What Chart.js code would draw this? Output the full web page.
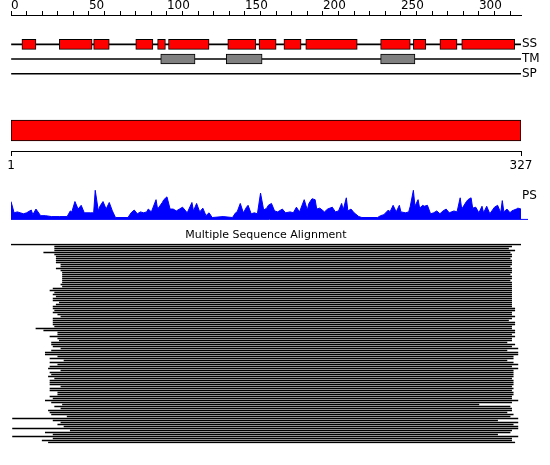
<!DOCTYPE html>
<html>
<head>
<meta charset="utf-8">
<script src="https://cdn.jsdelivr.net/npm/chart.js@4"></script>
<style>
  body { margin: 0; background: #fff; }
  #wrap { position: relative; width: 550px; height: 465px; }
  canvas { position: absolute; left: 0; }
</style>
</head>
<body>
<div id="wrap">
  <canvas id="tracks" width="550" height="90" style="top:0px"></canvas>
  <canvas id="seq" width="550" height="65" style="top:110px"></canvas>
  <canvas id="ps" width="550" height="37" style="top:184px"></canvas>
  <canvas id="msa" width="550" height="220" style="top:224px"></canvas>
</div>
<script>
// sequence length (residues)
const seqLength = 327;

// feature tracks
const trackNames = ['SS', 'TM', 'SP'];
const ssStart = [7, 31, 53, 80, 94, 101, 139, 159, 175, 189, 237, 258, 275, 289];
const ssEnd   = [16, 52, 63, 91, 99, 127, 157, 170, 186, 222, 256, 266, 286, 323];
const tmStart = [96, 138, 237];
const tmEnd   = [118, 161, 259];

// PS profile (residue, score)
const psPos = [0, 2, 4, 6, 8, 10, 13, 14, 16, 19, 22, 26, 31, 36, 38, 39, 41, 43, 45, 47,
  51, 53, 54, 56, 57, 59, 61, 63, 65, 67, 75, 77, 79, 81, 83, 85, 87, 88, 90, 93,
  94, 97, 98, 100, 102, 104, 106, 108, 110, 113, 116, 117, 119, 121, 123, 125, 127, 129, 136, 142,
  144, 145, 147, 149, 151, 152, 154, 156, 158, 160, 162, 164, 165, 167, 169, 171, 174, 176, 179, 181,
  183, 185, 188, 190, 191, 193, 195, 196, 198, 201, 203, 206, 208, 210, 212, 213, 215, 216, 218, 220,
  223, 225, 235, 237, 239, 242, 243, 245, 247, 249, 250, 253, 255, 256, 258, 259, 261, 262, 264, 265,
  267, 269, 271, 273, 275, 277, 279, 281, 284, 286, 288, 289, 292, 293, 295, 296, 298, 300, 302, 303,
  305, 307, 310, 312, 314, 315, 316, 318, 320, 321, 324, 325, 327];
const psVal = [19, 7, 8, 7, 6, 7, 10, 5, 11, 4, 4, 3, 3, 3, 9, 8, 19, 11, 15, 7,
  7, 7, 31, 9, 14, 19, 11, 18, 9, 2, 2, 7, 10, 6, 8, 7, 8, 11, 8, 21,
  11, 18, 21, 24, 11, 11, 9, 11, 13, 7, 18, 9, 17, 8, 12, 4, 7, 2, 3, 2,
  7, 8, 17, 7, 13, 15, 6, 7, 6, 28, 10, 12, 15, 17, 9, 8, 11, 7, 8, 7,
  13, 8, 21, 10, 17, 22, 21, 11, 12, 8, 11, 13, 8, 9, 17, 10, 23, 9, 11, 7,
  3, 2, 2, 4, 5, 10, 8, 15, 8, 15, 8, 7, 8, 14, 31, 14, 21, 12, 15, 14,
  15, 6, 7, 9, 6, 9, 11, 7, 9, 8, 23, 11, 19, 21, 23, 12, 13, 7, 14, 7,
  14, 6, 13, 15, 7, 20, 8, 11, 7, 9, 11, 12, 11];

// multiple sequence alignment: aligned range of each hit
const msaStart = [0, 28, 28, 28, 21, 28, 29, 29, 29, 29, 32, 32, 29, 32, 33, 33, 33, 33, 33, 33,
  32, 33, 27, 25, 28, 27, 29, 27, 27, 31, 29, 27, 27, 28, 27, 30, 32, 27, 27, 27,
  27, 28, 16, 21, 30, 30, 25, 30, 31, 26, 26, 27, 32, 26, 22, 22, 30, 25, 34, 25,
  30, 25, 24, 32, 25, 26, 24, 28, 25, 25, 25, 32, 25, 25, 30, 30, 25, 27, 22, 26,
  33, 28, 32, 24, 25, 26, 36, 1, 27, 32, 30, 34, 1, 38, 22, 27, 1, 27, 20, 24];
const msaEnd = [327, 321, 319, 323, 320, 321, 321, 320, 321, 321, 321, 320, 321, 321, 321, 320, 321, 321, 320, 321,
  321, 321, 321, 321, 321, 321, 321, 321, 321, 321, 321, 321, 323, 323, 321, 321, 323, 321, 319, 323,
  323, 321, 321, 323, 323, 321, 323, 321, 321, 318, 323, 321, 325, 318, 325, 325, 322, 322, 318, 322,
  325, 321, 325, 322, 322, 322, 322, 321, 322, 322, 322, 321, 322, 321, 322, 322, 321, 321, 325, 321,
  300, 320, 321, 321, 318, 322, 320, 325, 312, 325, 322, 325, 325, 321, 320, 312, 325, 321, 321, 323];

Chart.defaults.font.family = 'DejaVu Sans';
Chart.defaults.color = '#000';
Chart.defaults.animation = false;
Chart.defaults.responsive = false;
Chart.defaults.events = [];
Chart.defaults.plugins.legend.display = false;
Chart.defaults.plugins.tooltip.enabled = false;

// side labels are drawn at the row; tiny line height keeps them from padding the chart area
const sideFont = { size: 12, lineHeight: 0.1 };

// SS / TM / SP tracks with ruler on top
new Chart(document.getElementById('tracks'), {
    type: 'bar',
    data: {
        datasets: [{
            data: ssStart.map((s, i) => ({ x: [s, ssEnd[i]], y: 1 })),
            backgroundColor: '#ff0000',
            borderColor: '#000',
            borderWidth: 1,
            borderSkipped: false,
            barThickness: 10,
            grouped: false,
            order: 1
        }, {
            data: tmStart.map((s, i) => ({ x: [s, tmEnd[i]], y: 2 })),
            backgroundColor: '#808080',
            borderColor: '#000',
            borderWidth: 1,
            borderSkipped: false,
            barThickness: 10,
            grouped: false,
            order: 1
        }, {
            data: trackNames.map((n, i) => ({ x: [0, seqLength], y: i + 1 })),
            backgroundColor: '#000',
            borderWidth: 0,
            barThickness: 1,
            grouped: false,
            order: 5
        }]
    },
    options: {
        indexAxis: 'y',
        layout: { padding: { left: 11 } },
        scales: {
            x: {
                type: 'linear',
                position: 'top',
                min: 0,
                max: seqLength,
                grid: { drawOnChartArea: false, tickLength: 4, color: '#000' },
                border: { color: '#000' },
                ticks: {
                    stepSize: 10,
                    includeBounds: false,
                    autoSkip: false,
                    maxRotation: 0,
                    align: 'start',
                    padding: -1,
                    font: { size: 12, lineHeight: 1 },
                    callback: v => v % 50 === 0 ? v : ''
                },
                afterFit: s => { s.height = 15; }
            },
            y: {
                type: 'linear',
                position: 'right',
                reverse: true,
                offset: false,
                min: -1,
                max: 4,
                grid: { display: false, drawTicks: false, tickLength: 0 },
                border: { display: false },
                ticks: {
                    stepSize: 1,
                    autoSkip: false,
                    padding: 1,
                    font: sideFont,
                    callback: v => trackNames[v - 1] || ''
                },
                afterFit: s => { s.width = 29; }
            }
        }
    }
});

// full-length query bar
new Chart(document.getElementById('seq'), {
    type: 'bar',
    data: {
        labels: ['query'],
        datasets: [{
            data: [[1, seqLength]],
            backgroundColor: '#ff0000',
            borderColor: '#000',
            borderWidth: 1,
            borderSkipped: false,
            barThickness: 21
        }]
    },
    options: {
        indexAxis: 'y',
        layout: { padding: { left: 11, right: 29 } },
        scales: {
            x: {
                type: 'linear',
                min: 1,
                max: seqLength,
                grid: { drawOnChartArea: false, tickLength: 5, color: '#000' },
                border: { color: '#000' },
                afterBuildTicks: s => { s.ticks = [{ value: 1 }, { value: seqLength }]; },
                ticks: { autoSkip: false, maxRotation: 0, padding: 3, font: { size: 12 } },
                afterFit: s => { s.height = 24; }
            },
            y: { display: false }
        }
    }
});

// PS profile
new Chart(document.getElementById('ps'), {
    type: 'line',
    data: {
        datasets: [{
            data: psPos.map((p, i) => ({ x: p, y: psVal[i] })),
            borderColor: '#0000ff',
            backgroundColor: '#0000ff',
            borderWidth: 1,
            pointRadius: 0,
            fill: 'origin',
            tension: 0
        }, {
            data: [{ x: 0, y: 0 }, { x: 331.5, y: 0 }],
            borderColor: '#0000ff',
            borderWidth: 1,
            pointRadius: 0,
            clip: false
        }]
    },
    options: {
        layout: { padding: { left: 11, bottom: 1 } },
        scales: {
            x: { type: 'linear', min: 0, max: seqLength, display: false },
            y: {
                min: 0,
                max: 36,
                position: 'right',
                grid: { display: false, drawTicks: false, tickLength: 0 },
                border: { display: false },
                afterBuildTicks: s => { s.ticks = [{ value: 25 }]; },
                ticks: { padding: 1, font: sideFont, callback: () => 'PS' },
                afterFit: s => { s.width = 29; }
            }
        }
    }
});

// multiple sequence alignment
new Chart(document.getElementById('msa'), {
    type: 'bar',
    data: {
        labels: msaStart.map((s, i) => 'seq' + (i + 1)),
        datasets: [{
            data: msaStart.map((s, i) => [s, msaEnd[i]]),
            backgroundColor: '#000',
            borderWidth: 0,
            barThickness: 1
        }]
    },
    options: {
        indexAxis: 'y',
        layout: { padding: { left: 11, right: 29, bottom: 0.5 } },
        plugins: {
            title: {
                display: true,
                text: 'Multiple Sequence Alignment',
                color: '#000',
                font: { size: 11, weight: 'normal', lineHeight: '13.5px' },
                padding: { top: 4, bottom: 2 }
            }
        },
        scales: {
            x: { type: 'linear', min: 0, max: seqLength, display: false },
            y: { display: false }
        }
    }
});
</script>
</body>
</html>
